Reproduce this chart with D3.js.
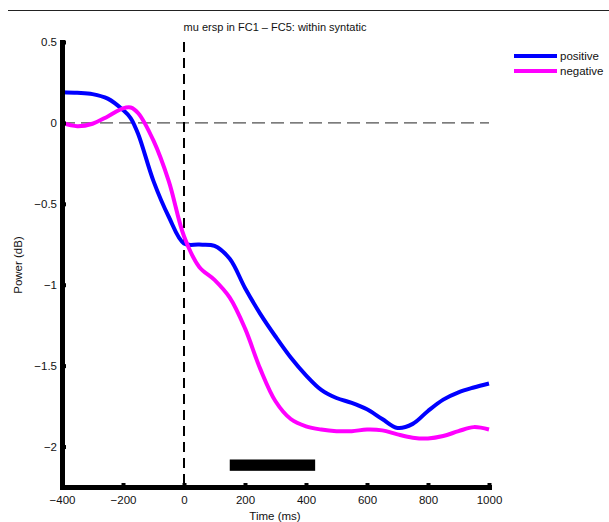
<!DOCTYPE html>
<html>
<head>
<meta charset="utf-8">
<script src="https://cdn.jsdelivr.net/npm/d3@7"></script>
<style>
body { margin: 0; background: white; }
text { font-family: "Liberation Sans", Arial, sans-serif; fill: #111; }
</style>
</head>
<body>
<div id="canvas"></div>
<script>
"use strict"

let svgWidth=609
let svgHeight=522

// data
let times=[-400,-350,-300,-250,-200,-175,-150,-100,-50,0,50,100,150,200,250,300,350,400,450,500,550,600,650,700,750,800,850,900,950,1000]
let positive=[0.19,0.186,0.178,0.15,0.08,0.03,-0.07,-0.36,-0.58,-0.745,-0.752,-0.76,-0.84,-1.02,-1.18,-1.32,-1.45,-1.56,-1.65,-1.70,-1.73,-1.77,-1.83,-1.885,-1.86,-1.78,-1.71,-1.665,-1.635,-1.61]
let negative=[0.0,-0.02,-0.005,0.04,0.09,0.095,0.06,-0.11,-0.36,-0.70,-0.89,-0.97,-1.08,-1.27,-1.52,-1.72,-1.83,-1.875,-1.895,-1.905,-1.905,-1.895,-1.9,-1.925,-1.945,-1.95,-1.935,-1.905,-1.88,-1.895]
let seriesNames=["positive","negative"]
let seriesColors=["#0000ff","#ff00ff"]
let xTicks=[-400,-200,0,200,400,600,800,1000]
let yTicks=[0.5,0,-0.5,-1,-1.5,-2]
let sigWindow=[150,430]
let sigLevel=[-2.08,-2.15]

let plotLeft=62, plotRight=489, plotTop=42, plotBottom=487

let drawing = d3.select("#canvas")
    .append("svg")
    .attr("width", svgWidth)
    .attr("height",svgHeight)

let x=d3.scaleLinear().domain([-400,1000]).range([plotLeft,plotRight])
let y=d3.scaleLinear().domain([-2.25,0.5]).range([plotBottom,plotTop])

// thin rule at the top of the page
drawing.append("line")
    .attr("x1",8).attr("y1",10.5)
    .attr("x2",svgWidth).attr("y2",10.5)
    .attr("stroke","#222")
    .attr("stroke-width",1)

// zero lines
drawing.append("line")
    .attr("x1",x(-400)).attr("y1",y(0))
    .attr("x2",x(1000)).attr("y2",y(0))
    .attr("stroke","#222")
    .attr("stroke-width",1)
    .attr("stroke-dasharray","13,6")

drawing.append("line")
    .attr("x1",x(0)).attr("y1",y(0.5))
    .attr("x2",x(0)).attr("y2",plotBottom)
    .attr("stroke","black")
    .attr("stroke-width",2)
    .attr("stroke-dasharray","10,6")

// significance bar
drawing.append("rect")
    .attr("x",x(sigWindow[0]))
    .attr("y",y(sigLevel[0]))
    .attr("width",x(sigWindow[1])-x(sigWindow[0]))
    .attr("height",y(sigLevel[1])-y(sigLevel[0]))
    .attr("fill","black")

let line=d3.line()
    .x((d,i)=>x(times[i]))
    .y(d=>y(d))
    .curve(d3.curveCatmullRom)

;[positive,negative].forEach((vals,i)=>{
    drawing.append("path")
        .attr("d",line(vals))
        .attr("fill","none")
        .attr("stroke",seriesColors[i])
        .attr("stroke-width",4)
        .attr("stroke-linejoin","round")
})

// axes
let xAxis=drawing.append("g")
    .attr("transform",`translate(0,${plotBottom})`)
    .call(d3.axisBottom(x).tickValues(xTicks).tickSizeInner(-4).tickSizeOuter(0).tickPadding(9).tickFormat(d3.format("d")))
let yAxis=drawing.append("g")
    .attr("transform",`translate(${plotLeft},0)`)
    .call(d3.axisLeft(y).tickValues(yTicks).tickSizeInner(-4).tickSizeOuter(0).tickPadding(5).tickFormat(d=>d3.format("")(d)))

;[xAxis,yAxis].forEach(a=>{
    a.select(".domain").attr("stroke","black").attr("stroke-width",5).attr("stroke-linecap","square")
    a.selectAll(".tick line").attr("stroke","black").attr("stroke-width",4)
    a.selectAll(".tick text").attr("fill","#111").style("font-size","11.5px").style("font-family","Liberation Sans, Arial, sans-serif")
})

// title and axis labels
drawing.append("text")
    .attr("x",275).attr("y",31)
    .attr("text-anchor","middle")
    .style("font-size","11px")
    .text("mu ersp in FC1 \u2013 FC5: within syntatic")

drawing.append("text")
    .attr("x",275).attr("y",520)
    .attr("text-anchor","middle")
    .style("font-size","11.5px")
    .text("Time (ms)")

drawing.append("text")
    .attr("transform","translate(22,265) rotate(-90)")
    .attr("text-anchor","middle")
    .style("font-size","11.5px")
    .text("Power (dB)")

// legend
seriesNames.forEach((name,i)=>{
    let ly=56+i*15
    drawing.append("line")
        .attr("x1",514).attr("y1",ly)
        .attr("x2",557).attr("y2",ly)
        .attr("stroke",seriesColors[i])
        .attr("stroke-width",4)
    drawing.append("text")
        .attr("x",560).attr("y",ly+4)
        .style("font-size","11.5px")
        .text(name)
})
</script>
</body>
</html>
